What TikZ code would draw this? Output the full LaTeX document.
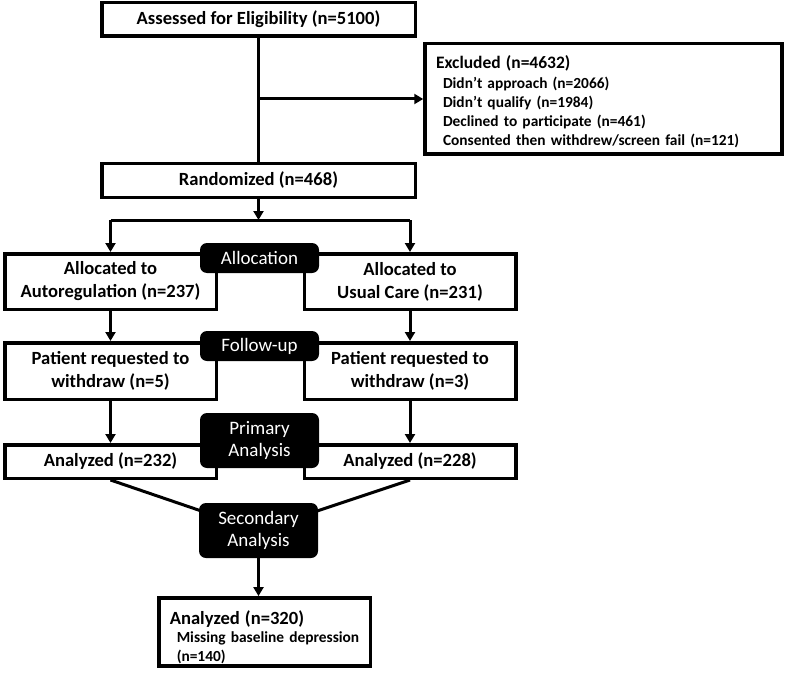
\documentclass[tikz,border=0pt]{standalone}
\usepackage{fontspec}
\setmainfont{Carlito}
\usetikzlibrary{arrows.meta,backgrounds}

\begin{document}
\begin{tikzpicture}[x=1pt, y=-1pt,
    box/.style={draw, line width=3.5pt, fill=white, align=center, inner sep=2pt,
      minimum width=211.5pt, font=\fontsize{18.6}{23}\selectfont\bfseries},
    widebox/.style={box, minimum width=313.5pt, minimum height=33.5pt},
    listbox/.style={box, align=left, inner xsep=11pt, font=\fontsize{15.4}{19}\selectfont\bfseries},
    phase/.style={fill=black, rounded corners=7pt, text=white, align=center, inner sep=2pt,
      minimum width=119pt, font=\fontsize{19}{22}\selectfont},
    link/.style={line width=3pt},
    arr/.style={link, -{Triangle[length=9pt, width=10pt]}}]
  \useasboundingbox (0,0) rectangle (786,679);
  \def\XL{110.5}
  \def\XR{410}
  \def\XM{259.5}
  \node[widebox] (elig) at (258.5,19.5) {Assessed for Eligibility (n=5100)};
  \node[listbox, text width=335pt, minimum height=110.5pt] (excl) at (603.5,99)
    {\rule{0pt}{19pt}{\fontsize{17.5}{19}\selectfont Excluded (n=4632)}\\[1pt]
     \hspace*{7pt}Didn’t approach (n=2066)\\
     \hspace*{7pt}Didn’t qualify (n=1984)\\
     \hspace*{7pt}Declined to participate (n=461)\\
     \hspace*{7pt}Consented then withdrew/screen fail (n=121)};
  \node[widebox] (rand) at (258.5,180.5) {Randomized (n=468)};
  \coordinate (split) at (258.5,220);
  \node[box, minimum height=55.5pt] (allocL) at (\XL,281.5) {Allocated to\\Autoregulation (n=237)};
  \node[box, minimum height=55.5pt] (allocR) at (\XR,281.5) {Allocated to\\Usual Care (n=231)};
  \node[box, minimum height=56.5pt] (fupL) at (\XL,371) {Patient requested to\\withdraw (n=5)};
  \node[box, minimum height=56.5pt] (fupR) at (\XR,371) {Patient requested to\\withdraw (n=3)};
  \node[box, minimum height=33.5pt] (anaL) at (\XL,461.5) {Analyzed (n=232)};
  \node[box, minimum height=33.5pt] (anaR) at (\XR,461.5) {Analyzed (n=228)};
  \node[listbox, text width=189.5pt, minimum height=64.5pt] (final) at (264.5,632)
    {\rule{0pt}{25pt}{\fontsize{18.6}{19}\selectfont Analyzed (n=320)}\\[-1pt]
     \hspace*{7pt}Missing baseline depression\\
     \hspace*{7pt}(n=140)};
  \node[phase, minimum height=30pt] (alloc) at (\XM,258) {Allocation};
  \node[phase, minimum height=30pt] (fup) at (\XM,346) {Follow-up};
  \node[phase, minimum height=55pt] (prim) at (\XM,440.5) {Primary\\Analysis};
  \node[phase, minimum height=55pt] (sec) at (258.5,530.5) {Secondary\\Analysis};
  \begin{scope}[on background layer]
    \draw[link] (elig) -- (rand);
    \draw[arr] (elig.south |- excl.west) -- (excl.west);
    \draw[arr] (rand) -- (split);
    \draw[link] (split -| allocL) -- (split -| allocR);
    \foreach \s in {L,R} {
      \draw[arr] (split -| alloc\s) -- (alloc\s);
      \draw[arr] (alloc\s) -- (fup\s);
      \draw[arr] (fup\s) -- (ana\s);
      \draw[link] (ana\s.south) -- (sec.center);
    }
    \draw[arr] (sec.south) -- (sec.south |- final.north);
  \end{scope}
\end{tikzpicture}
\end{document}
